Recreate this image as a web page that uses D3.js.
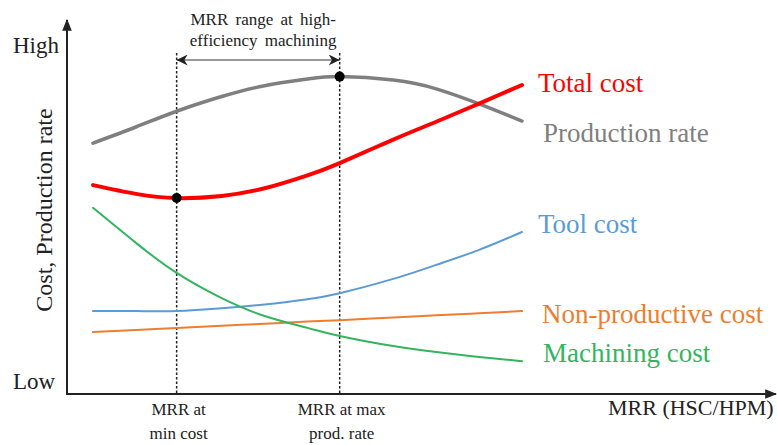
<!DOCTYPE html>
<html>
<head>
<meta charset="utf-8">
<script src="https://cdn.jsdelivr.net/npm/d3@7"></script>
<style>
  html, body { margin: 0; padding: 0; background: #fff; }
  svg { display: block; }
  text { font-family: "Liberation Serif", "Times New Roman", serif; }
</style>
</head>
<body>
<svg id="chart" width="777" height="445"></svg>
<script>
// ---------- data (arbitrary units: MRR 0-100, level 0 = Low ... 100 = High) ----------
const mrr            = [0, 10, 19.5, 30, 40, 50, 57.5, 70, 80, 90, 100];
const productionRate = [71.4, 76.0, 80.5, 84.7, 87.8, 89.7, 90.4, 89.4, 86.9, 82.6, 77.7];
const totalCost      = [59.4, 56.9, 55.7, 56.3, 58.5, 62.2, 65.7, 72.4, 77.5, 82.7, 88.0];
const toolCost       = [23.4, 23.4, 23.4, 24.2, 25.3, 26.8, 28.5, 32.6, 36.6, 40.9, 46.0];
const nonProdCost    = [17.4, 18.0, 18.6, 19.2, 19.8, 20.4, 20.8, 21.6, 22.2, 22.8, 23.4];
const machiningCost  = [52.9, 42.9, 34.3, 27.1, 22.0, 18.6, 16.3, 13.4, 11.7, 10.3, 9.1];
const seriesNames    = ["Production rate", "Total cost", "Tool cost", "Non-productive cost", "Machining cost"];
const markerMrr      = [19.5, 57.5];
const markerLabels   = [["MRR at", "min cost"], ["MRR at max", "prod. rate"]];
const rangeLabel     = ["MRR range at high-", "efficiency machining"];
const yTickLabels    = ["Low", "High"];
const xAxisTitle     = "MRR (HSC/HPM)";
const yAxisTitle     = "Cost, Production rate";

// ---------- layout ----------
const svg = d3.select("#chart");
const x = d3.scaleLinear().domain([0, 100]).range([93, 522]);
const y = d3.scaleLinear().domain([0, 100]).range([393, 43]);
const axisX0 = 67, axisY0 = 394, axisXEnd = 776, axisYTop = 20;

const series = [
  { name: seriesNames[0], values: productionRate, color: "#7f7f7f", width: 3.5, lx: 543, ly: 142 },
  { name: seriesNames[1], values: totalCost,      color: "#ff0000", width: 4,   lx: 538, ly: 92 },
  { name: seriesNames[2], values: toolCost,       color: "#5b9bd5", width: 2,   lx: 538, ly: 233 },
  { name: seriesNames[3], values: nonProdCost,    color: "#ed7d31", width: 2,   lx: 542, ly: 323 },
  { name: seriesNames[4], values: machiningCost,  color: "#33b55f", width: 2,   lx: 543, ly: 362 }
];

const defs = svg.append("defs");
defs.append("marker").attr("id", "axisArrow")
  .attr("viewBox", "0 0 10 10").attr("refX", 9).attr("refY", 5)
  .attr("markerWidth", 6).attr("markerHeight", 6).attr("markerUnits", "strokeWidth")
  .attr("orient", "auto")
  .append("path").attr("d", "M0,1 L10,5 L0,9 Z").attr("fill", "#222");
defs.append("marker").attr("id", "rangeArrow")
  .attr("viewBox", "0 0 10 10").attr("refX", 10).attr("refY", 5)
  .attr("markerWidth", 11).attr("markerHeight", 11).attr("markerUnits", "userSpaceOnUse")
  .attr("orient", "auto-start-reverse")
  .append("path").attr("d", "M0,0 L10,5 L0,10 L3,5 Z").attr("fill", "#222");

// axes
svg.append("line").attr("x1", axisX0).attr("y1", axisY0).attr("x2", axisX0).attr("y2", axisYTop)
  .attr("stroke", "#222").attr("stroke-width", 2).attr("marker-end", "url(#axisArrow)");
svg.append("line").attr("x1", axisX0 - 1).attr("y1", axisY0).attr("x2", axisXEnd).attr("y2", axisY0)
  .attr("stroke", "#222").attr("stroke-width", 2).attr("marker-end", "url(#axisArrow)");

svg.append("text").attr("x", 13).attr("y", 389).attr("font-size", 23).attr("fill", "#222").text(yTickLabels[0]);
svg.append("text").attr("x", 13).attr("y", 53).attr("font-size", 23).attr("fill", "#222").text(yTickLabels[1]);
svg.append("text").attr("transform", "translate(52,210) rotate(-90)")
  .attr("text-anchor", "middle").attr("font-size", 24).attr("fill", "#222").text(yAxisTitle);
svg.append("text").attr("x", 608).attr("y", 415).attr("font-size", 22).attr("fill", "#222").text(xAxisTitle);

// marker dashed lines and labels
markerMrr.forEach((m, i) => {
  svg.append("line").attr("x1", x(m)).attr("x2", x(m)).attr("y1", 53).attr("y2", axisY0 - 1)
    .attr("stroke", "#222").attr("stroke-width", 1.5).attr("stroke-dasharray", "2.5,2");
  markerLabels[i].forEach((t, j) => {
    svg.append("text").attr("x", x(m) + 2).attr("y", 415 + j * 24)
      .attr("text-anchor", "middle").attr("font-size", 17).attr("fill", "#222").text(t);
  });
});

// range arrow + label
svg.append("line").attr("x1", x(markerMrr[0])).attr("x2", x(markerMrr[1])).attr("y1", 60).attr("y2", 60)
  .attr("stroke", "#333").attr("stroke-width", 1.2)
  .attr("marker-start", "url(#rangeArrow)").attr("marker-end", "url(#rangeArrow)");
rangeLabel.forEach((t, j) => {
  svg.append("text").attr("x", (x(markerMrr[0]) + x(markerMrr[1])) / 2 + 5).attr("y", 25 + j * 21)
    .attr("text-anchor", "middle").attr("font-size", 17).attr("word-spacing", 3)
    .attr("fill", "#222").text(t);
});

// curves
const line = d3.line().x((d, i) => x(mrr[i])).y(d => y(d)).curve(d3.curveNatural);
series.forEach(s => {
  svg.append("path").datum(s.values).attr("d", line)
    .attr("fill", "none").attr("stroke", s.color).attr("stroke-width", s.width)
    .attr("stroke-linecap", "round");
  svg.append("text").attr("x", s.lx).attr("y", s.ly).attr("font-size", 27)
    .attr("fill", s.color).text(s.name);
});

// key points
svg.append("circle").attr("cx", x(markerMrr[0])).attr("cy", y(totalCost[mrr.indexOf(markerMrr[0])])).attr("r", 5).attr("fill", "#000");
svg.append("circle").attr("cx", x(markerMrr[1])).attr("cy", y(productionRate[mrr.indexOf(markerMrr[1])])).attr("r", 5).attr("fill", "#000");
</script>
</body>
</html>
